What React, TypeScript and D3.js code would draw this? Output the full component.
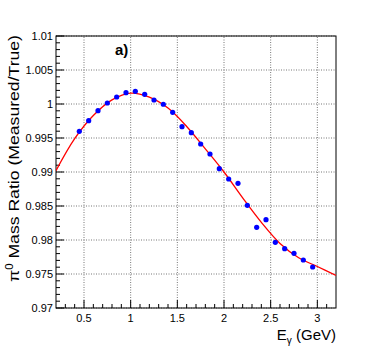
import React from 'react';
import * as d3 from 'd3';

// measured points (E_gamma in GeV, mass ratio)
const energies = [
  0.45, 0.55, 0.65, 0.75, 0.85, 0.95, 1.05, 1.15, 1.25, 1.35, 1.45, 1.55, 1.65,
  1.75, 1.85, 1.95, 2.05, 2.15, 2.25, 2.35, 2.45, 2.55, 2.65, 2.75, 2.85, 2.95,
];
const ratios = [
  0.99598, 0.99755, 0.99902, 1.00015, 1.00103, 1.00167, 1.00187, 1.00143,
  1.00059, 0.99996, 0.99878, 0.99667, 0.99578, 0.99412, 0.99265, 0.99049,
  0.98897, 0.98834, 0.9851, 0.98187, 0.98299, 0.97966, 0.97872, 0.97804,
  0.97706, 0.97603,
];

// fit curve
const fitE = [0.2, 0.4, 0.6, 0.8, 1.0, 1.2, 1.4, 1.6, 1.8, 2.0, 2.2, 2.4, 2.6, 2.8, 3.0, 3.2];
const fitR = [
  0.9902, 0.9949, 0.9983, 1.0006, 1.0016, 1.001, 0.9994, 0.9967, 0.9934, 0.99,
  0.9862, 0.9826, 0.9795, 0.9774, 0.9761, 0.9748,
];

const xTicks = [0.5, 1, 1.5, 2, 2.5, 3];
const yTicks = [0.97, 0.975, 0.98, 0.985, 0.99, 0.995, 1, 1.005, 1.01];

export default function App() {
  const width = 374;
  const height = 363;
  const margin = { top: 36, right: 38, bottom: 55, left: 56 };
  const x = d3.scaleLinear().domain([0.2, 3.2]).range([margin.left, width - margin.right]);
  const y = d3.scaleLinear().domain([0.97, 1.01]).range([height - margin.bottom, margin.top]);
  const [x0, x1] = x.range();
  const [y0, y1] = y.range();

  const xMinor = d3.range(3, 32).map((v) => v / 10).filter((v) => Math.abs(v * 2 - Math.round(v * 2)) > 1e-6);
  const yMinor = d3.range(970, 1011).map((v) => v / 1000).filter((v) => Math.round(v * 1000) % 5 !== 0);

  const line = d3
    .line<number>()
    .x((_, i) => x(fitE[i]))
    .y((d) => y(d))
    .curve(d3.curveCatmullRom);

  const font = "'Liberation Sans', Arial, sans-serif";

  return (
    <svg
      width={width}
      height={height}
      style={{ position: 'absolute', left: 0, top: 0, background: '#fff' }}
      fontFamily={font}
    >
      <defs>
        <clipPath id="plot">
          <rect x={x0} y={y1} width={x1 - x0} height={y0 - y1} />
        </clipPath>
      </defs>
      {/* grid */}
      <g stroke="#777" strokeWidth={1} strokeDasharray="1,1.5">
        {xTicks.map((t) => (
          <line key={'gx' + t} x1={x(t)} x2={x(t)} y1={y0} y2={y1} />
        ))}
        {yTicks.map((t) => (
          <line key={'gy' + t} x1={x0} x2={x1} y1={y(t)} y2={y(t)} />
        ))}
      </g>
      {/* ticks */}
      <g stroke="#000" strokeWidth={1}>
        {xTicks.map((t) => (
          <line key={'tx' + t} x1={x(t)} x2={x(t)} y1={y0} y2={y0 - 8} />
        ))}
        {xMinor.map((t) => (
          <line key={'mx' + t} x1={x(t)} x2={x(t)} y1={y0} y2={y0 - 4} />
        ))}
        {yTicks.map((t) => (
          <line key={'ty' + t} x1={x0} x2={x0 + 8} y1={y(t)} y2={y(t)} />
        ))}
        {yMinor.map((t) => (
          <line key={'my' + t} x1={x0} x2={x0 + 4} y1={y(t)} y2={y(t)} />
        ))}
      </g>
      <rect x={x0} y={y1} width={x1 - x0} height={y0 - y1} fill="none" stroke="#000" strokeWidth={1} />
      {/* tick labels */}
      <g fontSize={11} fill="#000">
        {xTicks.map((t) => (
          <text key={'lx' + t} x={x(t)} y={y0 + 14} textAnchor="middle">
            {d3.format('~g')(t)}
          </text>
        ))}
        {yTicks.map((t) => (
          <text key={'ly' + t} x={x0 - 3} y={y(t) + 4} textAnchor="end">
            {d3.format('~g')(t)}
          </text>
        ))}
      </g>
      {/* fit */}
      <path d={line(fitR) ?? ''} fill="none" stroke="#ff0000" strokeWidth={1.3} clipPath="url(#plot)" />
      {/* points */}
      <g fill="#0000ff">
        {ratios.map((r, i) => (
          <circle key={'p' + i} cx={x(energies[i])} cy={y(r)} r={2.6} />
        ))}
      </g>
      <text x={115} y={55} fontSize={15} fontWeight="bold">
        a)
      </text>
      {/* axis titles */}
      <text x={x1} y={340} fontSize={15} textAnchor="end">
        E<tspan fontSize={10} dy={4}>γ</tspan>
        <tspan dy={-4}> (GeV)</tspan>
      </text>
      <text
        transform={`translate(19, ${y1 - 1}) rotate(-90)`}
        fontSize={15.5}
        textAnchor="end"
        textLength={247}
        lengthAdjust="spacingAndGlyphs"
      >
        π<tspan fontSize={10} dy={-6}>0</tspan>
        <tspan dy={6}> Mass Ratio (Measured/True)</tspan>
      </text>
    </svg>
  );
}
